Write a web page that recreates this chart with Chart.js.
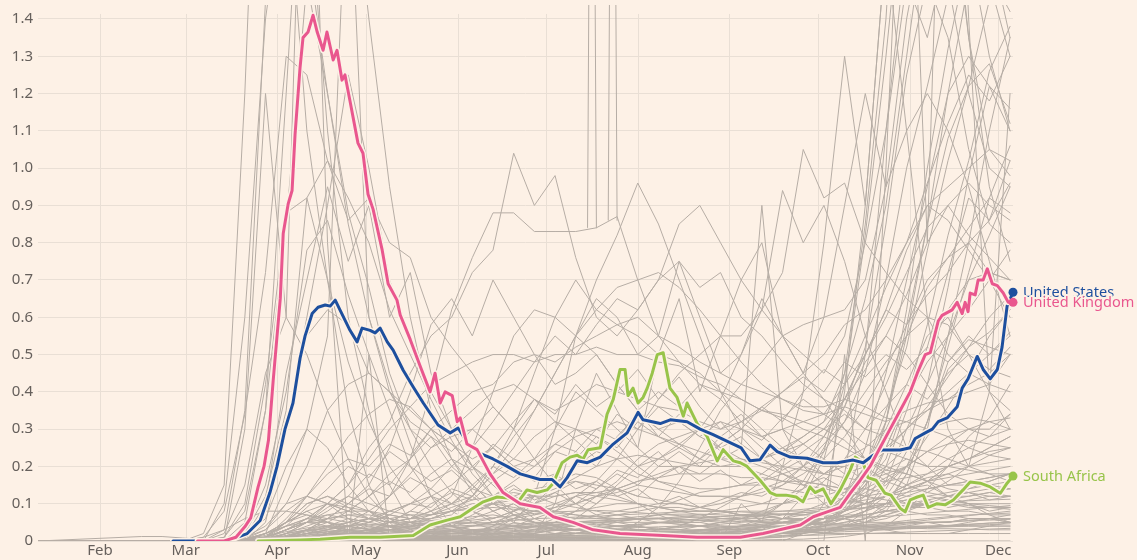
<!DOCTYPE html>
<html>
<head>
<meta charset="utf-8">
<script src="https://cdn.jsdelivr.net/npm/chart.js@4.4.0/dist/chart.umd.min.js"></script>
<style>
  html, body { margin: 0; padding: 0; background: #fdf1e6; }
  canvas { display: block; }
</style>
</head>
<body>
<canvas id="myChart" width="1137" height="560"></canvas>
<script>
// x values are day numbers of 2020 (0 = 1 Jan)
const monthDays = [31, 60, 91, 121, 152, 182, 213, 244, 274, 305, 335];
const monthNames = ['Feb', 'Mar', 'Apr', 'May', 'Jun', 'Jul', 'Aug', 'Sep', 'Oct', 'Nov', 'Dec'];
const yTicks = [0, 0.1, 0.2, 0.3, 0.4, 0.5, 0.6, 0.7, 0.8, 0.9, 1.0, 1.1, 1.2, 1.3, 1.4];

const ukDays = [64, 73, 77, 80, 82, 84.5, 86.5, 88, 89.6, 92,
  93, 94.7, 96, 97, 98.7, 99.7, 101.4, 103.1, 104.5, 106.5,
  107.8, 109.9, 111.2, 112.9, 113.9, 115.6, 118.3, 120, 121.7, 123.4,
  126.5, 128.5, 131.5, 132.6, 136, 139.3, 142.7, 144.4, 146.1, 147.8,
  150.2, 151.9, 152.9, 155.2, 158.6, 163, 167.4, 173.2, 179.9, 184.4,
  191.1, 197.9, 207, 221.6, 233.1, 247.7, 255.4, 261, 268, 272.4,
  277.1, 281.5, 284.9, 288.3, 291.6, 295, 298.4, 301.8, 305.2, 307.6,
  310.3, 312, 314.7, 316, 319.4, 321.1, 322.8, 323.8, 324.8, 325.5,
  327.2, 328.2, 329.9, 331.3, 333, 334.7, 336.7, 338.4, 340];
const ukValues = [0, 0, 0.01, 0.038, 0.062, 0.145, 0.2, 0.27, 0.43, 0.65,
  0.825, 0.905, 0.94, 1.09, 1.27, 1.35, 1.365, 1.41, 1.365, 1.316,
  1.365, 1.29, 1.316, 1.236, 1.25, 1.18, 1.067, 1.04, 0.93, 0.89,
  0.78, 0.69, 0.646, 0.606, 0.54, 0.47, 0.40, 0.45, 0.37, 0.40,
  0.39, 0.32, 0.33, 0.26, 0.245, 0.18, 0.13, 0.10, 0.09, 0.065,
  0.05, 0.03, 0.02, 0.015, 0.01, 0.01, 0.02, 0.03, 0.043, 0.065,
  0.078, 0.09, 0.128, 0.163, 0.2, 0.25, 0.30, 0.35, 0.40, 0.45,
  0.50, 0.505, 0.59, 0.605, 0.62, 0.64, 0.61, 0.64, 0.615, 0.665,
  0.66, 0.70, 0.70, 0.73, 0.69, 0.685, 0.665, 0.64, 0.64];

const usDays = [55.7, 64, 74, 80.8, 85.2, 88.5, 90.9, 93.6, 96.3, 98.7,
  100.4, 102.8, 104.8, 107.2, 108.9, 110.6, 112.2, 115.6, 118, 119.7,
  122.4, 124.1, 125.8, 128.2, 130.2, 133.6, 137, 140.4, 145.4, 149.5,
  152.2, 155.6, 159.6, 164, 168.8, 173.2, 179.9, 184, 186.7, 189.1,
  192.5, 195.9, 200.3, 204.7, 209.4, 213.1, 214.8, 220.6, 224, 229.7,
  234.1, 238.5, 245.3, 248, 251, 254.4, 257.8, 260.2, 264.6, 270.3,
  275.7, 280.5, 285.9, 289.3, 292.7, 295.7, 301.8, 305.2, 306.9, 310.3,
  312.7, 314.7, 317.7, 321.1, 322.8, 324.8, 327.9, 329.9, 332.3, 334.7,
  336.3, 338, 340];
const usValues = [0, 0, 0, 0.02, 0.055, 0.13, 0.2, 0.30, 0.37, 0.49,
  0.55, 0.61, 0.627, 0.633, 0.63, 0.646, 0.62, 0.565, 0.534, 0.571,
  0.565, 0.558, 0.571, 0.534, 0.512, 0.458, 0.413, 0.37, 0.311, 0.29,
  0.303, 0.26, 0.235, 0.22, 0.20, 0.18, 0.165, 0.165, 0.145, 0.17,
  0.215, 0.21, 0.225, 0.26, 0.29, 0.345, 0.325, 0.315, 0.325, 0.32,
  0.30, 0.285, 0.26, 0.25, 0.215, 0.218, 0.257, 0.24, 0.225, 0.222,
  0.21, 0.21, 0.217, 0.21, 0.23, 0.244, 0.244, 0.25, 0.275, 0.29,
  0.30, 0.32, 0.33, 0.36, 0.41, 0.435, 0.495, 0.46, 0.435, 0.46,
  0.52, 0.63, 0.667];

const saDays = [84.5, 98.7, 105.5, 115.6, 125.8, 137, 142.7, 148.5, 152.9, 156.3,
  160.7, 165.4, 169.1, 172.5, 175.5, 178.9, 182.3, 184.4, 187.4, 190.1,
  192.5, 194.5, 196.2, 200.3, 202.6, 204.7, 207, 208.7, 209.7, 211.4,
  213.1, 214.8, 216.2, 217.9, 219.6, 221.6, 223.9, 226.3, 228.4, 229.7,
  233.1, 236.5, 239.9, 241.9, 245.3, 247.7, 250, 254.4, 257.8, 259.8,
  263.2, 266.6, 268.9, 271.3, 273, 275.7, 278.4, 281.5, 284.9, 286.6,
  289.3, 290.9, 293.6, 296.7, 298.7, 301.8, 303.5, 305.2, 307.6, 309.6,
  311.3, 314.3, 317, 319.8, 323.1, 325.5, 328.9, 332.3, 335.7, 338,
  340];
const saValues = [0, 0.003, 0.005, 0.01, 0.01, 0.015, 0.043, 0.056, 0.065, 0.083,
  0.105, 0.118, 0.115, 0.105, 0.137, 0.13, 0.137, 0.155, 0.21, 0.225,
  0.23, 0.22, 0.245, 0.25, 0.34, 0.38, 0.46, 0.46, 0.39, 0.41,
  0.37, 0.385, 0.41, 0.45, 0.50, 0.505, 0.41, 0.385, 0.335, 0.37,
  0.315, 0.28, 0.215, 0.245, 0.215, 0.21, 0.2, 0.163, 0.13, 0.123,
  0.123, 0.118, 0.105, 0.145, 0.13, 0.14, 0.10, 0.137, 0.19, 0.225,
  0.21, 0.17, 0.163, 0.128, 0.123, 0.088, 0.078, 0.11, 0.118, 0.123,
  0.09, 0.10, 0.097, 0.11, 0.137, 0.158, 0.155, 0.145, 0.128, 0.155,
  0.174];

// all the other countries, one value per week
const greyDays = [10, 45, 52, 59, 66, 73, 80, 87, 94, 101, 108,
  115, 122, 129, 136, 143, 150, 157, 164, 171, 178, 185,
  192, 199, 206, 213, 220, 227, 234, 241, 248, 255, 262,
  269, 276, 283, 290, 297, 304, 311, 318, 325, 332, 339];

const greySpring = [
  [0,0,0,0,0.01,0.08,0.34,0.72,1.3,1.25,1.02, 0.92,0.8,0.62,0.5,0.38,0.27,0.18,0.12,0.07,0.05,0.04, 0.03,0.03,0.02,0.02,0.02,0.02,0.02,0.03,0.03,0.04,0.04, 0.05,0.05,0.09,0.16,0.32,0.58,0.85,1.08,1.22,1.28,1.12],
  [0,0,0,0,0,0.03,0.35,1.45,1.9,1.6,1.2, 0.85,0.6,0.42,0.26,0.12,0.04,0.02,0.01,0.01,0.01,0.01, 0.01,0.01,0.02,0.05,0.09,0.16,0.25,0.35,0.42,0.48,0.55, 0.58,0.6,0.62,0.7,0.95,1.1,1.2,1.1,0.95,0.75,0.55],
  [0,0,0,0,0,0,0.05,0.35,1.2,2.1,2.3, 1.9,1.4,0.95,0.6,0.35,0.22,0.13,0.08,0.05,0.04,0.03, 0.03,0.03,0.03,0.04,0.05,0.05,0.05,0.06,0.06,0.07,0.1, 0.14,0.24,0.45,0.85,1.4,2.3,2.6,1.9,1.35,0.95,0.75],
  [0,0,0,0,0,0.01,0.08,0.35,0.85,1.5,1.2, 0.88,0.68,0.45,0.3,0.2,0.13,0.08,0.05,0.04,0.03,0.02, 0.02,0.02,0.02,0.02,0.03,0.04,0.06,0.09,0.12,0.16,0.2, 0.24,0.28,0.36,0.52,0.85,1.25,1.5,1.35,1.05,0.85,0.8],
  [0,0,0,0,0,0,0.02,0.12,0.35,0.92,1.02, 0.86,0.92,0.8,0.76,0.6,0.52,0.45,0.36,0.3,0.22,0.15, 0.1,0.07,0.05,0.04,0.03,0.03,0.02,0.02,0.02,0.02,0.02, 0.02,0.03,0.04,0.06,0.09,0.18,0.32,0.46,0.52,0.56,0.62],
  [0,0,0,0,0,0.01,0.1,0.42,0.88,0.92,0.7, 0.48,0.32,0.2,0.12,0.08,0.04,0.02,0.01,0.01,0.01,0.01, 0.01,0.01,0.01,0.01,0.01,0.02,0.02,0.03,0.04,0.06,0.1, 0.16,0.25,0.36,0.48,0.55,0.5,0.42,0.34,0.3,0.3,0.34],
  [0,0,0,0,0,0,0.02,0.15,0.4,0.78,0.86, 0.66,0.5,0.35,0.2,0.12,0.08,0.05,0.03,0.02,0.01,0.01, 0.01,0.01,0.01,0.01,0.01,0.01,0.01,0.01,0.02,0.02,0.03, 0.05,0.08,0.11,0.14,0.17,0.2,0.16,0.12,0.1,0.07,0.05],
  [0,0,0,0,0.02,0.15,1.2,2.6,3.0,1.8,1.1, 0.6,0.35,0.15,0.05,0.02,0,0,0,0,0,0, 0,0,0,0,0,0,0,0,0,0,0, 0.02,0.1,0.4,0.9,1.6,2.4,2.8,2.2,1.6,1.3,1.1],
  [0,0,0,0,0,0,0,0.05,0.3,0.6,0.9, 1.25,1.0,0.7,0.55,0.4,0.3,0.2,0.15,0.1,0.06,0.04, 0.03,0.02,0.02,0.02,0.02,0.02,0.03,0.03,0.04,0.05,0.05, 0.06,0.08,0.12,0.2,0.3,0.42,0.55,0.6,0.5,0.4,0.35],
  [0,0,0,0,0,0,0.01,0.08,0.3,0.55,0.62, 0.58,0.45,0.4,0.35,0.3,0.22,0.15,0.1,0.07,0.05,0.04, 0.03,0.03,0.03,0.03,0.03,0.04,0.04,0.05,0.06,0.08,0.1, 0.12,0.16,0.22,0.3,0.42,0.55,0.68,0.76,0.8,0.72,0.7],
  [0,0,0,0,0,0.02,0.15,0.45,0.6,0.5,0.35, 0.22,0.12,0.06,0.03,0.01,0.01,0.01,0.01,0.01,0.01,0.01, 0.01,0.01,0.01,0.01,0.01,0.01,0.01,0.01,0.02,0.02,0.03, 0.04,0.06,0.18,0.5,1.1,1.6,1.7,1.5,1.2,1.0,0.95],
  [0,0,0,0,0,0,0.01,0.03,0.1,0.2,0.35, 0.42,0.45,0.4,0.32,0.28,0.2,0.15,0.1,0.07,0.05,0.04, 0.03,0.02,0.02,0.02,0.01,0.01,0.01,0.01,0.02,0.02,0.03, 0.04,0.05,0.07,0.09,0.1,0.11,0.13,0.16,0.2,0.23,0.25],
  [0,0,0,0,0,0,0,0.01,0.05,0.12,0.2, 0.28,0.34,0.38,0.36,0.3,0.26,0.2,0.16,0.12,0.1,0.08, 0.07,0.06,0.06,0.06,0.07,0.08,0.09,0.1,0.12,0.14,0.16, 0.2,0.26,0.32,0.4,0.48,0.55,0.6,0.58,0.5,0.46,0.44],
  [0,0,0,0,0,0,0.01,0.1,0.45,0.7,0.95, 0.75,0.9,0.6,0.72,0.45,0.3,0.2,0.12,0.08,0.05,0.03, 0.02,0.02,0.02,0.02,0.02,0.02,0.02,0.02,0.02,0.03,0.03, 0.04,0.05,0.06,0.08,0.1,0.13,0.16,0.2,0.22,0.25,0.28]
];

const greySummer = [
  [0,0,0,0,0,0,0,0.01,0.03,0.06,0.1, 0.15,0.22,0.3,0.36,0.42,0.45,0.48,0.5,0.5,0.48,0.5, 0.5,0.52,0.5,0.5,0.48,0.47,0.44,0.42,0.38,0.35,0.34, 0.32,0.3,0.27,0.22,0.19,0.18,0.16,0.2,0.22,0.25,0.28],
  [0,0,0,0,0,0,0,0,0.01,0.03,0.05, 0.08,0.12,0.18,0.22,0.3,0.35,0.4,0.42,0.48,0.5,0.48, 0.52,0.55,0.58,0.6,0.55,0.52,0.48,0.45,0.42,0.4,0.38, 0.35,0.34,0.36,0.34,0.32,0.35,0.37,0.38,0.4,0.42,0.5],
  [0,0,0,0,0,0,0,0,0.02,0.05,0.1, 0.15,0.25,0.32,0.45,0.55,0.6,0.72,0.78,1.04,0.9,0.98, 0.76,0.6,0.55,0.62,0.7,0.85,0.9,0.8,0.7,0.62,0.55, 0.45,0.38,0.3,0.22,0.18,0.15,0.13,0.12,0.12,0.13,0.12],
  [0,0,0,0,0,0,0,0,0,0.01,0.02, 0.04,0.06,0.12,0.22,0.4,0.62,0.76,0.88,0.88,0.83,0.83, 0.83,0.84,0.87,0.7,0.55,0.48,0.42,0.4,0.38,0.35,0.33, 0.3,0.28,0.25,0.22,0.2,0.18,0.16,0.14,0.13,0.12,0.12],
  [0,0,0,0,0,0,0,0,0.01,0.01,0.02, 0.02,0.03,0.05,0.06,0.08,0.1,0.14,0.2,0.28,0.35,0.45, 0.55,0.62,0.68,0.7,0.72,0.68,0.62,0.55,0.48,0.42,0.38, 0.36,0.36,0.38,0.36,0.33,0.32,0.35,0.38,0.42,0.45,0.5],
  [0,0,0,0,0,0,0,0,0,0.01,0.01, 0.02,0.03,0.04,0.05,0.06,0.08,0.12,0.18,0.25,0.35,0.45, 0.55,0.7,0.82,0.96,0.85,0.7,0.55,0.4,0.3,0.25,0.2, 0.15,0.1,0.06,0.04,0.03,0.02,0.02,0.02,0.03,0.04,0.05],
  [0,0,0,0,0,0,0,0,0,0.01,0.01, 0.01,0.01,0.01,0.01,0.01,0.01,0.02,0.03,0.04,0.06,0.08, 0.12,0.16,0.22,0.3,0.38,0.45,0.5,0.55,0.55,0.62,0.72, 1.05,0.92,0.96,0.8,0.72,0.65,0.6,0.5,0.45,0.42,0.4],
  [0,0,0,0,0,0,0,0.01,0.03,0.05,0.07, 0.08,0.08,0.07,0.06,0.06,0.07,0.12,0.2,0.3,0.45,0.6, 0.7,0.62,0.58,0.55,0.5,0.48,0.45,0.4,0.35,0.3,0.25, 0.22,0.2,0.2,0.22,0.25,0.3,0.35,0.4,0.45,0.5,0.55],
  [0,0,0,0,0,0,0,0.02,0.15,0.3,0.55, 1.9,0.6,0.4,0.3,0.25,0.28,0.3,0.25,0.2,0.22,0.3, 0.4,0.35,0.3,0.25,0.2,0.2,0.18,0.22,0.25,0.9,0.3, 0.2,0.15,0.12,0.1,0.08,0.08,0.07,0.07,0.06,0.06,0.05],
  [0,0,0,0,0,0,0,0.01,0.03,0.05,0.05, 0.04,0.03,0.02,0.01,0.01,0.01,0.01,0.01,0.01,0.02,0.03, 0.06,0.1,0.15,0.2,0.22,0.25,0.3,0.38,0.5,0.62,0.94, 0.8,0.9,0.75,0.55,0.4,0.25,0.2,0.15,0.15,0.16,0.18],
  [0,0,0,0,0,0,0,0,0.01,0.02,0.03, 0.04,0.05,0.07,0.1,0.14,0.2,0.25,0.32,0.4,0.48,0.55, 0.5,0.58,0.65,0.62,0.7,0.75,0.68,0.72,0.6,0.55,0.48, 0.42,0.38,0.35,0.3,0.28,0.25,0.24,0.22,0.2,0.18,0.16],
  [0,0,0,0,0,0,0,0,0.01,0.02,0.03, 0.05,0.06,0.08,0.1,0.12,0.15,0.2,0.25,0.32,0.38,0.35, 0.38,0.42,0.4,0.38,0.36,0.35,0.32,0.3,0.32,0.35,0.4, 0.45,0.5,0.58,0.62,0.7,0.8,0.9,0.95,1.0,1.05,1.02],
  [0,0,0,0,0,0,0,0.01,0.05,0.1,0.12, 0.1,0.08,0.05,0.06,0.08,0.12,0.25,0.4,0.55,0.62,0.6, 0.55,0.5,0.42,0.35,0.28,0.25,0.22,0.2,0.2,0.22,0.25, 0.28,0.32,0.45,0.65,0.9,1.3,1.7,1.9,2.0,1.8,1.6],
  [0,0,0,0,0.01,0.03,0.06,0.08,0.08,0.07,0.05, 0.04,0.03,0.03,0.03,0.03,0.04,0.05,0.06,0.08,0.1,0.12, 0.13,0.13,0.12,0.1,0.09,0.08,0.08,0.08,0.09,0.1,0.12, 0.14,0.18,0.22,0.25,0.3,0.32,0.3,0.28,0.25,0.23,0.22],
  [0,0,0,0,0,0,0,0,0.02,0.03,0.02, 0.01,0.01,0,0,0,0,0,0.02,0.05,0.12,0.3, 0.55,0.65,0.6,0.5,0.55,0.75,0.6,0.45,0.5,0.65,0.55, 0.5,0.45,0.55,0.8,1.1,1.5,1.35,1.6,1.8,1.5,1.3],
  [0,0,0,0,0,0,0,0,0,0.002,0.004, 0.006,0.01,0.015,0.02,0.03,0.05,0.08,0.12,0.16,0.2,0.24, 0.28,0.3,0.32,0.3,0.28,0.26,0.24,0.22,0.2,0.18,0.16, 0.15,0.14,0.13,0.12,0.11,0.1,0.1,0.1,0.09,0.09,0.09],
  [0,0,0,0,0,0,0,0,0,0,0, 0,0,0,0,0,0,0.005,0.01,0.02,0.03,0.05, 0.08,0.12,0.16,0.22,0.26,0.28,0.3,0.32,0.3,0.28,0.3, 0.32,0.34,0.3,0.26,0.24,0.22,0.2,0.2,0.19,0.18,0.18],
  [0,0,0,0,0,0,0,0.001,0.002,0.003,0.003, 0.003,0.003,0.004,0.005,0.007,0.01,0.02,0.04,0.06,0.08,0.1, 0.12,0.13,0.14,0.16,0.17,0.18,0.18,0.18,0.17,0.17,0.16, 0.16,0.15,0.14,0.14,0.13,0.12,0.12,0.11,0.1,0.1,0.1],
  [0,0,0,0,0,0,0,0,0.01,0.03,0.06, 0.1,0.15,0.25,0.4,0.58,0.65,0.55,0.7,0.6,0.5,0.42, 0.45,0.5,0.42,0.35,0.3,0.32,0.28,0.25,0.22,0.2,0.18, 0.16,0.15,0.14,0.16,0.18,0.2,0.24,0.28,0.3,0.32,0.33]
];

const greyMid = [
  [0,0,0,0,0,0,0,0.005,0.02,0.05,0.08, 0.12,0.18,0.15,0.22,0.28,0.24,0.3,0.36,0.3,0.38,0.34, 0.42,0.36,0.4,0.46,0.38,0.44,0.36,0.3,0.34,0.28,0.3, 0.26,0.3,0.34,0.3,0.36,0.42,0.38,0.45,0.5,0.46,0.52],
  [0,0,0,0,0,0,0,0,0.01,0.02,0.04, 0.06,0.05,0.08,0.1,0.09,0.14,0.12,0.18,0.22,0.2,0.26, 0.3,0.26,0.34,0.3,0.36,0.32,0.28,0.32,0.26,0.22,0.25, 0.2,0.18,0.22,0.2,0.24,0.3,0.36,0.44,0.52,0.6,0.66],
  [0,0,0,0,0,0,0,0.01,0.04,0.09,0.14, 0.2,0.17,0.24,0.2,0.16,0.19,0.14,0.12,0.15,0.11,0.13, 0.1,0.14,0.18,0.15,0.2,0.24,0.2,0.26,0.3,0.27,0.33, 0.38,0.34,0.42,0.5,0.6,0.72,0.84,0.9,0.82,0.76,0.7],
  [0,0,0,0,0,0,0,0,0,0.01,0.02, 0.03,0.05,0.07,0.06,0.1,0.13,0.11,0.16,0.2,0.17,0.24, 0.22,0.28,0.25,0.32,0.28,0.34,0.3,0.25,0.28,0.22,0.19, 0.22,0.18,0.2,0.16,0.19,0.22,0.2,0.26,0.3,0.28,0.34],
  [0,0,0,0,0,0,0,0.005,0.03,0.06,0.1, 0.08,0.12,0.16,0.13,0.18,0.22,0.19,0.26,0.22,0.28,0.32, 0.27,0.22,0.26,0.2,0.24,0.18,0.22,0.26,0.3,0.36,0.32, 0.4,0.46,0.42,0.55,0.68,0.8,0.96,1.12,1.25,1.18,1.3],
  [0,0,0,0,0,0,0,0,0.005,0.01,0.015, 0.02,0.03,0.05,0.08,0.12,0.1,0.15,0.2,0.17,0.22,0.26, 0.24,0.3,0.27,0.35,0.4,0.36,0.42,0.38,0.32,0.28,0.24, 0.26,0.22,0.18,0.2,0.16,0.14,0.15,0.12,0.13,0.11,0.12],
  [0,0,0,0,0,0,0,0,0.01,0.03,0.06, 0.1,0.14,0.12,0.17,0.14,0.1,0.12,0.08,0.1,0.07,0.09, 0.12,0.1,0.14,0.12,0.17,0.2,0.16,0.19,0.15,0.18,0.22, 0.26,0.3,0.38,0.5,0.62,0.58,0.7,0.76,0.84,0.92,0.88],
  [0,0,0,0,0,0,0,0,0,0,0.005, 0.01,0.02,0.015,0.03,0.05,0.04,0.07,0.1,0.14,0.12,0.18, 0.24,0.2,0.28,0.34,0.3,0.26,0.3,0.24,0.2,0.22,0.18, 0.15,0.17,0.14,0.12,0.13,0.1,0.11,0.09,0.1,0.08,0.09],
  [0,0,0,0,0,0,0,0.01,0.06,0.12,0.18, 0.22,0.2,0.26,0.23,0.3,0.26,0.22,0.25,0.2,0.16,0.18, 0.14,0.16,0.12,0.14,0.1,0.12,0.09,0.11,0.13,0.12,0.15, 0.18,0.22,0.28,0.36,0.46,0.58,0.66,0.72,0.8,0.86,0.96],
  [0,0,0,0,0,0,0,0,0.005,0.01,0.02, 0.04,0.06,0.05,0.08,0.07,0.1,0.08,0.06,0.08,0.1,0.13, 0.16,0.14,0.19,0.17,0.22,0.26,0.22,0.28,0.32,0.36,0.4, 0.44,0.4,0.48,0.44,0.5,0.46,0.52,0.48,0.55,0.5,0.56]
];

const greyAutumn = [
  [0,0,0,0,0,0,0,0.001,0.003,0.005,0.006, 0.005,0.004,0.003,0.002,0.001,0.001,0.001,0.001,0.002,0.002,0.003, 0.003,0.004,0.005,0.005,0.006,0.008,0.01,0.012,0.015,0.03,0.06, 0.12,0.22,0.42,0.82,1.3,1.85,2.1,1.8,1.35,1.05,0.98],
  [0,0,0,0,0,0,0,0.001,0.002,0.004,0.006, 0.007,0.008,0.008,0.008,0.008,0.008,0.008,0.008,0.008,0.008,0.008, 0.008,0.008,0.009,0.01,0.012,0.013,0.014,0.015,0.016,0.02,0.025, 0.035,0.06,0.12,0.25,0.45,0.7,0.95,1.2,1.3,1.22,1.1],
  [0,0,0,0,0,0,0,0.002,0.005,0.01,0.015, 0.014,0.012,0.01,0.008,0.006,0.005,0.004,0.003,0.002,0.002,0.002, 0.002,0.002,0.002,0.003,0.004,0.005,0.008,0.012,0.02,0.04,0.06, 0.08,0.1,0.13,0.2,0.35,0.52,0.78,1.02,1.22,1.45,1.56],
  [0,0,0,0,0,0,0,0.001,0.003,0.005,0.006, 0.006,0.005,0.004,0.004,0.005,0.006,0.01,0.015,0.025,0.04,0.06, 0.08,0.09,0.1,0.1,0.09,0.08,0.07,0.06,0.06,0.05,0.05, 0.06,0.08,0.12,0.2,0.32,0.55,0.85,1.2,1.5,1.75,1.95],
  [0,0,0,0,0,0,0.005,0.02,0.04,0.06,0.05, 0.03,0.02,0.01,0.005,0.003,0.002,0.002,0.002,0.003,0.004,0.005, 0.006,0.007,0.008,0.008,0.008,0.008,0.008,0.01,0.012,0.015,0.02, 0.03,0.05,0.08,0.14,0.32,0.62,1.0,1.32,1.58,1.8,1.72],
  [0,0,0,0,0,0,0,0.005,0.01,0.02,0.025, 0.02,0.015,0.01,0.005,0.003,0.002,0.002,0.003,0.01,0.02,0.04, 0.05,0.05,0.04,0.03,0.03,0.03,0.04,0.05,0.06,0.06,0.07, 0.07,0.08,0.1,0.15,0.22,0.38,0.58,0.82,1.02,1.26,1.38],
  [0,0,0,0,0,0,0.002,0.008,0.02,0.04,0.06, 0.07,0.07,0.06,0.05,0.045,0.05,0.06,0.08,0.1,0.12,0.14, 0.17,0.2,0.22,0.23,0.22,0.21,0.2,0.2,0.21,0.22,0.24, 0.28,0.32,0.38,0.46,0.55,0.66,0.8,0.9,0.96,0.9,0.86],
  [0,0,0,0,0,0,0.01,0.04,0.1,0.12,0.1, 0.06,0.03,0.02,0.01,0.005,0.003,0.002,0.002,0.002,0.002,0.003, 0.003,0.004,0.004,0.004,0.004,0.004,0.004,0.005,0.008,0.012,0.02, 0.03,0.04,0.06,0.08,0.14,0.24,0.42,0.68,0.98,1.22,1.16],
  [0,0,0,0,0,0,0.005,0.02,0.04,0.05,0.04, 0.03,0.02,0.01,0.008,0.006,0.006,0.01,0.03,0.06,0.1,0.15, 0.2,0.24,0.22,0.18,0.16,0.15,0.14,0.14,0.15,0.16,0.18, 0.2,0.24,0.32,0.45,0.7,1.0,1.22,1.46,1.62,1.52,1.42],
  [0,0,0,0,0,0,0,0,0.001,0.002,0.003, 0.003,0.003,0.002,0.002,0.001,0.001,0.001,0.001,0.001,0.001,0.001, 0.001,0.001,0.001,0.001,0.002,0.002,0.003,0.005,0.01,0.02,0.03, 0.04,0.05,0.06,0.08,0.12,0.2,0.32,0.52,0.72,0.92,1.06],
  [0,0,0,0,0,0,0.01,0.06,0.2,0.3,0.25, 0.15,0.08,0.04,0.02,0.01,0.005,0.003,0.003,0.003,0.005,0.01, 0.02,0.03,0.04,0.04,0.03,0.03,0.03,0.03,0.03,0.04,0.04, 0.05,0.06,0.08,0.1,0.2,0.35,0.52,0.72,0.92,0.86,1.02],
  [0,0,0,0,0,0,0.005,0.03,0.08,0.12,0.1, 0.08,0.06,0.05,0.05,0.04,0.04,0.03,0.03,0.03,0.04,0.04, 0.04,0.04,0.03,0.03,0.02,0.02,0.02,0.02,0.03,0.03,0.04, 0.05,0.06,0.08,0.12,0.25,0.38,0.5,0.62,0.7,0.72,0.7],
  [0,0,0,0,0,0,0,0.001,0.003,0.005,0.008, 0.01,0.012,0.012,0.012,0.012,0.012,0.012,0.013,0.015,0.017,0.02, 0.022,0.025,0.028,0.03,0.033,0.036,0.04,0.045,0.05,0.055,0.06, 0.07,0.08,0.1,0.12,0.15,0.2,0.28,0.36,0.45,0.55,0.62],
  [0,0,0,0,0,0,0.001,0.004,0.008,0.01,0.008, 0.006,0.004,0.003,0.002,0.002,0.001,0.001,0.001,0.001,0.001,0.001, 0.001,0.002,0.003,0.005,0.008,0.012,0.015,0.02,0.025,0.03,0.03, 0.035,0.04,0.05,0.06,0.1,0.18,0.32,0.48,0.54,0.52,0.5],
  [0,0,0,0,0,0,0,0.002,0.01,0.02,0.03, 0.05,0.08,0.12,0.18,0.25,0.3,0.35,0.4,0.42,0.38,0.32, 0.3,0.28,0.24,0.2,0.16,0.14,0.12,0.12,0.12,0.13,0.15, 0.2,0.28,0.38,0.5,0.62,0.78,0.9,0.86,0.78,0.7,0.6],
  [0,0,0,0,0,0,0.3,1.2,0.6,2.4,0.8, 0,0.5,0,0,0,0,0,0,0,0,0, 0,0,0,0,0,0,0,0,0,0,0, 0,0,0.5,0,1.0,2.2,0.8,2.6,1.4,0.4,1.2],
  [0,0,0,0,0,0,0.002,0.01,0.05,0.1,0.12, 0.09,0.06,0.04,0.025,0.015,0.01,0.008,0.006,0.005,0.004,0.003, 0.003,0.002,0.002,0.002,0.002,0.002,0.002,0.002,0.002,0.003,0.004, 0.005,0.008,0.012,0.02,0.04,0.08,0.14,0.2,0.28,0.33,0.42],
  [0,0,0,0,0,0,0,0,0.001,0.003,0.006, 0.01,0.015,0.02,0.025,0.03,0.035,0.04,0.04,0.04,0.038,0.035, 0.03,0.028,0.025,0.024,0.023,0.022,0.021,0.02,0.02,0.021,0.022, 0.025,0.03,0.04,0.05,0.06,0.08,0.1,0.12,0.14,0.16,0.18],
  [0,0,0,0,0,0,0,0.02,0.05,0.08,0.05, 0.02,0.01,0,0,0,0,0,0,0,0.02,0.1, 0.3,0.45,0.35,0.25,0.5,0.65,0.4,0.55,0.7,0.8,0.55, 0.45,0.6,0.9,1.2,0.95,1.4,1.7,1.5,1.9,1.6,1.35],
  [0,0,0,0,0,0,0,0.005,0.01,0.015,0.02, 0.018,0.015,0.01,0.008,0.005,0.004,0.003,0.002,0.002,0.002,0.002, 0.002,0.002,0.002,0.002,0.002,0.003,0.004,0.005,0.006,0.008,0.01, 0.015,0.02,0.04,0.08,0.16,0.3,0.42,0.55,0.7,0.82,0.95],
  [0,0,0,0,0,0.1,0.6,1.4,1.8,1.1,0.7, 0.35,0.15,0.05,0,0,0,0,0,0,0,0, 0,0,0,0,0,0,0,0,0.1,0.05,0.2, 0.4,0.8,1.3,0.9,1.6,1.1,0.6,0.3,0.2,0.4,0.3],
  [0,0,0,0,0,0,0,0.001,0.002,0.003,0.003, 0.002,0.002,0.001,0.001,0.001,0.001,0.001,0.001,0.001,0.001,0.001, 0.001,0.001,0.002,0.002,0.003,0.003,0.004,0.005,0.006,0.008,0.012, 0.02,0.04,0.08,0.15,0.25,0.38,0.48,0.55,0.62,0.7,0.78],
  [0,0,0,0,0,0,0.005,0.02,0.05,0.07,0.06, 0.05,0.04,0.03,0.02,0.01,0.01,0.02,0.04,0.08,0.12,0.16, 0.18,0.17,0.14,0.1,0.07,0.05,0.04,0.03,0.03,0.03,0.03, 0.03,0.03,0.04,0.05,0.08,0.15,0.3,0.55,0.8,1.1,1.35]
];

const greyLow = [
  [0,0.012,0.012,0.008,0.004,0.002,0.001,0.001,0.001,0.001,0.001, 0,0,0,0,0,0,0,0,0,0,0, 0,0,0,0,0,0,0,0,0,0,0, 0,0,0,0,0,0,0,0,0,0,0],
  [0,0,0,0,0,0,0.005,0.02,0.05,0.08,0.1, 0.09,0.08,0.06,0.05,0.04,0.03,0.03,0.02,0.02,0.02,0.03, 0.03,0.04,0.05,0.06,0.06,0.05,0.05,0.04,0.04,0.04,0.05, 0.06,0.07,0.08,0.1,0.12,0.15,0.17,0.18,0.16,0.15,0.14],
  [0,0,0,0,0,0,0.002,0.01,0.03,0.05,0.06, 0.07,0.06,0.05,0.04,0.03,0.02,0.02,0.01,0.01,0.01,0.01, 0.01,0.01,0.01,0.02,0.02,0.02,0.02,0.02,0.02,0.03,0.03, 0.04,0.05,0.06,0.08,0.1,0.12,0.14,0.15,0.16,0.17,0.18],
  [0,0,0,0,0,0,0,0.005,0.015,0.03,0.04, 0.05,0.06,0.06,0.07,0.07,0.08,0.09,0.1,0.11,0.12,0.12, 0.13,0.12,0.11,0.1,0.09,0.09,0.08,0.08,0.07,0.07,0.06, 0.06,0.06,0.06,0.05,0.05,0.05,0.05,0.05,0.06,0.06,0.06],
  [0,0,0,0,0,0,0,0,0.005,0.01,0.015, 0.02,0.025,0.03,0.04,0.05,0.06,0.08,0.1,0.12,0.14,0.15, 0.16,0.15,0.14,0.12,0.11,0.1,0.09,0.08,0.07,0.07,0.06, 0.06,0.06,0.07,0.07,0.08,0.09,0.1,0.1,0.11,0.12,0.12],
  [0,0,0,0,0,0,0,0.002,0.005,0.01,0.015, 0.02,0.02,0.02,0.02,0.02,0.02,0.03,0.03,0.04,0.05,0.05, 0.06,0.07,0.08,0.09,0.1,0.1,0.09,0.08,0.07,0.06,0.05, 0.05,0.04,0.04,0.04,0.04,0.05,0.05,0.05,0.06,0.06,0.07],
  [0,0,0,0,0,0,0,0,0.002,0.004,0.006, 0.008,0.01,0.012,0.015,0.02,0.025,0.03,0.035,0.04,0.045,0.05, 0.05,0.05,0.05,0.05,0.05,0.045,0.04,0.04,0.035,0.03,0.03, 0.03,0.03,0.03,0.035,0.04,0.045,0.05,0.05,0.055,0.06,0.06],
  [0,0,0,0,0,0,0.005,0.015,0.04,0.06,0.07, 0.06,0.05,0.04,0.035,0.03,0.03,0.04,0.05,0.07,0.08,0.09, 0.1,0.12,0.13,0.15,0.14,0.13,0.12,0.12,0.11,0.1,0.1, 0.11,0.12,0.14,0.16,0.2,0.25,0.3,0.32,0.33,0.32,0.3],
  [0,0,0,0,0,0,0,0,0.01,0.02,0.01, 0.02,0.01,0.01,0,0.01,0,0.01,0.01,0.02,0.01,0.02, 0.03,0.02,0.02,0.03,0.02,0.02,0.01,0.02,0.01,0.02,0.02, 0.03,0.02,0.03,0.04,0.03,0.04,0.05,0.04,0.05,0.06,0.05],
  [0,0,0,0,0,0,0,0,0,0.005,0.01, 0.015,0.02,0.03,0.04,0.06,0.08,0.1,0.1,0.09,0.08,0.07, 0.06,0.06,0.07,0.08,0.09,0.11,0.13,0.14,0.15,0.15,0.14, 0.13,0.12,0.11,0.1,0.1,0.09,0.09,0.08,0.08,0.07,0.07],
  [0,0,0,0,0,0,0,0.002,0.004,0.006,0.008, 0.01,0.01,0.01,0.01,0.01,0.01,0.01,0.01,0.01,0.01,0.01, 0.01,0.012,0.015,0.02,0.02,0.025,0.03,0.03,0.03,0.035,0.04, 0.045,0.05,0.06,0.07,0.08,0.09,0.1,0.11,0.12,0.13,0.14],
  [0,0,0,0,0,0,0,0.001,0.003,0.005,0.007, 0.008,0.01,0.012,0.014,0.016,0.02,0.025,0.03,0.035,0.04,0.045, 0.05,0.055,0.06,0.065,0.07,0.072,0.072,0.07,0.068,0.065,0.06, 0.055,0.05,0.045,0.04,0.037,0.035,0.033,0.033,0.032,0.03,0.03],
  [0,0,0,0,0,0,0,0.01,0.03,0.05,0.09, 0.12,0.1,0.08,0.07,0.05,0.04,0.03,0.02,0.02,0.015,0.01, 0.01,0.01,0.01,0.01,0.01,0.01,0.01,0.01,0.01,0.01,0.015, 0.02,0.03,0.04,0.05,0.07,0.09,0.11,0.12,0.13,0.14,0.14],
  [0,0,0,0,0,0,0,0,0,0,0.005, 0.01,0.02,0.03,0.05,0.07,0.09,0.11,0.12,0.13,0.12,0.1, 0.09,0.08,0.07,0.06,0.05,0.045,0.04,0.035,0.03,0.03,0.025, 0.025,0.02,0.02,0.02,0.02,0.02,0.02,0.02,0.02,0.02,0.02],
  [0,0,0,0,0,0,0,0.005,0.02,0.03,0.03, 0.025,0.02,0.015,0.01,0.008,0.006,0.005,0.004,0.004,0.004,0.005, 0.006,0.008,0.01,0.015,0.02,0.025,0.03,0.035,0.04,0.045,0.05, 0.06,0.08,0.1,0.13,0.16,0.2,0.24,0.26,0.27,0.26,0.25],
  [0,0,0,0,0,0,0,0,0.002,0.003,0.004, 0.005,0.005,0.005,0.005,0.006,0.007,0.008,0.01,0.012,0.015,0.018, 0.02,0.02,0.022,0.025,0.025,0.025,0.024,0.023,0.022,0.022,0.023, 0.025,0.027,0.03,0.032,0.034,0.036,0.038,0.04,0.042,0.044,0.046],
  [0,0,0,0,0,0,0,0.003,0.01,0.02,0.025, 0.03,0.035,0.04,0.045,0.05,0.05,0.05,0.045,0.04,0.035,0.03, 0.03,0.035,0.04,0.045,0.05,0.055,0.06,0.065,0.07,0.075,0.08, 0.085,0.09,0.1,0.11,0.12,0.13,0.14,0.15,0.16,0.17,0.18],
  [0,0,0,0,0,0,0,0,0,0.002,0.004, 0.006,0.01,0.015,0.02,0.025,0.03,0.04,0.05,0.06,0.07,0.08, 0.1,0.12,0.14,0.16,0.18,0.2,0.21,0.22,0.22,0.21,0.2, 0.19,0.18,0.17,0.16,0.16,0.17,0.18,0.2,0.22,0.24,0.25],
  [0,0,0,0,0,0,0,0.002,0.005,0.01,0.02, 0.03,0.04,0.05,0.06,0.07,0.08,0.085,0.09,0.085,0.08,0.075, 0.07,0.065,0.06,0.06,0.06,0.065,0.07,0.075,0.08,0.08,0.08, 0.08,0.085,0.09,0.1,0.12,0.14,0.16,0.18,0.2,0.21,0.22],
  [0,0,0,0,0,0,0,0,0.001,0.002,0.003, 0.004,0.005,0.006,0.007,0.008,0.009,0.01,0.011,0.012,0.013,0.014, 0.015,0.016,0.017,0.018,0.019,0.02,0.02,0.02,0.02,0.02,0.021, 0.022,0.023,0.025,0.027,0.03,0.033,0.036,0.04,0.044,0.048,0.05],
  [0,0,0,0,0,0,0,0.004,0.012,0.025,0.035, 0.04,0.045,0.04,0.035,0.03,0.028,0.025,0.025,0.028,0.03,0.035, 0.04,0.045,0.04,0.038,0.035,0.03,0.028,0.025,0.025,0.028,0.03, 0.035,0.04,0.05,0.06,0.07,0.085,0.1,0.11,0.1,0.095,0.09],
  [0,0,0,0,0,0,0,0,0.003,0.008,0.015, 0.02,0.03,0.04,0.05,0.055,0.06,0.065,0.07,0.06,0.05,0.045, 0.04,0.035,0.03,0.028,0.025,0.025,0.03,0.035,0.04,0.045,0.05, 0.055,0.06,0.065,0.07,0.08,0.09,0.1,0.1,0.095,0.09,0.085],
  [0,0,0,0,0,0,0,0,0,0.001,0.002, 0.003,0.004,0.006,0.008,0.01,0.013,0.016,0.02,0.025,0.03,0.035, 0.04,0.048,0.055,0.06,0.062,0.06,0.055,0.05,0.045,0.04,0.038, 0.036,0.035,0.034,0.035,0.036,0.038,0.04,0.042,0.045,0.048,0.05],
  [0,0,0,0,0,0,0,0.001,0.004,0.008,0.012, 0.016,0.02,0.022,0.024,0.025,0.024,0.022,0.02,0.018,0.016,0.015, 0.015,0.016,0.018,0.02,0.022,0.024,0.026,0.03,0.034,0.04,0.048, 0.058,0.07,0.085,0.1,0.12,0.15,0.18,0.22,0.25,0.28,0.3],
  [0,0,0,0,0,0,0.003,0.012,0.025,0.035,0.04, 0.038,0.032,0.03,0.026,0.024,0.02,0.022,0.018,0.02,0.016,0.018, 0.015,0.017,0.02,0.018,0.022,0.02,0.024,0.022,0.026,0.024,0.028, 0.03,0.034,0.038,0.042,0.048,0.055,0.06,0.065,0.07,0.072,0.075],
  [0,0,0,0,0,0,0,0.002,0.006,0.012,0.018, 0.024,0.03,0.036,0.04,0.044,0.046,0.048,0.05,0.055,0.06,0.062, 0.064,0.066,0.07,0.072,0.075,0.078,0.08,0.08,0.078,0.075,0.072, 0.07,0.068,0.066,0.064,0.066,0.07,0.075,0.08,0.085,0.09,0.095],
  [0,0,0,0,0,0,0,0,0.001,0.003,0.005, 0.008,0.01,0.012,0.014,0.016,0.018,0.02,0.022,0.024,0.026,0.028, 0.03,0.032,0.034,0.036,0.038,0.04,0.04,0.04,0.038,0.036,0.034, 0.032,0.03,0.03,0.03,0.032,0.034,0.036,0.038,0.04,0.04,0.04],
  [0,0,0,0,0,0,0,0.004,0.014,0.028,0.036, 0.03,0.022,0.016,0.012,0.01,0.008,0.007,0.006,0.006,0.006,0.007, 0.008,0.009,0.01,0.011,0.012,0.013,0.014,0.016,0.02,0.026,0.034, 0.045,0.06,0.08,0.1,0.12,0.14,0.16,0.17,0.18,0.19,0.2],
  [0,0,0,0,0,0,0,0,0.002,0.005,0.01, 0.015,0.022,0.03,0.038,0.045,0.05,0.056,0.062,0.068,0.074,0.078, 0.08,0.082,0.08,0.076,0.072,0.068,0.064,0.06,0.056,0.052,0.05, 0.048,0.046,0.045,0.045,0.046,0.048,0.05,0.052,0.054,0.056,0.058],
  [0,0,0,0,0,0,0,0.001,0.003,0.006,0.01, 0.014,0.017,0.02,0.022,0.024,0.026,0.028,0.03,0.034,0.038,0.042, 0.046,0.05,0.054,0.058,0.06,0.062,0.064,0.066,0.068,0.07,0.072, 0.076,0.08,0.085,0.09,0.1,0.11,0.12,0.13,0.14,0.15,0.16],
  [0,0,0,0,0,0,0,0,0,0.001,0.002, 0.003,0.004,0.005,0.006,0.007,0.008,0.009,0.01,0.01,0.01,0.01, 0.01,0.01,0.01,0.01,0.01,0.01,0.01,0.011,0.012,0.013,0.014, 0.015,0.016,0.018,0.02,0.022,0.024,0.026,0.028,0.03,0.032,0.034],
  [0,0,0,0,0,0,0,0.002,0.008,0.016,0.024, 0.03,0.028,0.026,0.024,0.022,0.02,0.018,0.016,0.014,0.012,0.011, 0.01,0.01,0.01,0.011,0.012,0.014,0.016,0.018,0.02,0.022,0.024, 0.027,0.03,0.034,0.038,0.044,0.05,0.056,0.062,0.068,0.074,0.08],
  [0,0,0,0,0,0,0,0,0.003,0.007,0.012, 0.018,0.024,0.03,0.034,0.038,0.04,0.042,0.044,0.046,0.048,0.05, 0.052,0.054,0.056,0.058,0.06,0.058,0.056,0.054,0.052,0.05,0.048, 0.046,0.044,0.042,0.04,0.04,0.04,0.04,0.04,0.04,0.04,0.04],
  [0,0,0,0,0,0,0,0.001,0.002,0.004,0.006, 0.008,0.01,0.012,0.013,0.014,0.015,0.016,0.018,0.02,0.024,0.028, 0.032,0.036,0.04,0.044,0.048,0.052,0.056,0.06,0.064,0.068,0.072, 0.076,0.08,0.084,0.088,0.092,0.096,0.1,0.104,0.108,0.11,0.112]
];

// two one-day reporting spikes in July
const spikeDays = [[196, 197.5, 199], [203, 204.5, 206]];
const spikeValues = [[0.84, 3, 0.84], [0.86, 3, 0.86]];

const bg = '#fdf1e6';
const gridColor = '#e9dfd5';
const textColor = '#66605c';
const greyColor = '#b6ada5';
const fontFamily = '"Noto Sans", sans-serif';

function toPoints(days, values) {
    return days.map((d, i) => ({ x: d, y: values[i] }));
}

const highlights = [
    { label: 'United Kingdom', days: ukDays, values: ukValues, color: '#e9578e' },
    { label: 'United States', days: usDays, values: usValues, color: '#1d4f9e' },
    { label: 'South Africa', days: saDays, values: saValues, color: '#98c44a' }
];

const datasets = [];
highlights.forEach((h) => {
    datasets.push({ label: h.label, endLabel: true, data: toPoints(h.days, h.values), borderColor: h.color, borderWidth: 3 });
    datasets.push({ data: toPoints(h.days, h.values), borderColor: bg, borderWidth: 6 });
});
[greySpring, greySummer, greyMid, greyAutumn, greyLow].forEach((group) => {
    group.forEach((values) => {
        datasets.push({ data: toPoints(greyDays, values), borderColor: greyColor, borderWidth: 1 });
    });
});
spikeDays.forEach((days, i) => {
    datasets.push({ data: toPoints(days, spikeValues[i]), borderColor: greyColor, borderWidth: 1 });
});

const monthGrid = {
    id: 'monthGrid',
    beforeDatasetsDraw(chart) {
        const { ctx, chartArea } = chart;
        const x = chart.scales.x;
        const y = chart.scales.y;
        ctx.save();
        ctx.strokeStyle = gridColor;
        ctx.lineWidth = 1;
        monthDays.forEach((d) => {
            const px = Math.round(x.getPixelForValue(d)) + 0.5;
            ctx.beginPath();
            ctx.moveTo(px, y.getPixelForValue(1.4) - 5);
            ctx.lineTo(px, chartArea.bottom);
            ctx.stroke();
        });
        ctx.restore();
    }
};

const endLabels = {
    id: 'endLabels',
    afterDatasetsDraw(chart) {
        const ctx = chart.ctx;
        ctx.save();
        ctx.font = '14.5px ' + fontFamily;
        ctx.textBaseline = 'middle';
        ctx.lineJoin = 'round';
        const items = [];
        chart.data.datasets.forEach((ds, i) => { if (ds.endLabel) items.push(i); });
        items.reverse().forEach((i) => {
            const ds = chart.data.datasets[i];
            const meta = chart.getDatasetMeta(i);
            const pt = meta.data[meta.data.length - 1];
            ctx.fillStyle = ds.borderColor;
            ctx.beginPath();
            ctx.arc(pt.x, pt.y, 4.5, 0, Math.PI * 2);
            ctx.fill();
            ctx.lineWidth = 4;
            ctx.strokeStyle = bg;
            ctx.strokeText(ds.label, pt.x + 10, pt.y + 1);
            ctx.fillText(ds.label, pt.x + 10, pt.y + 1);
        });
        ctx.restore();
    }
};

Chart.defaults.font.family = fontFamily;
Chart.defaults.font.size = 15;
Chart.defaults.color = textColor;

const ctx = document.getElementById('myChart');
const myChart = new Chart(ctx, {
    type: 'line',
    data: { datasets: datasets },
    options: {
        responsive: false,
        animation: false,
        devicePixelRatio: 1,
        layout: { padding: { top: 5, right: 124, left: 0, bottom: 0 } },
        elements: {
            point: { radius: 0, hoverRadius: 0 },
            line: { tension: 0, borderJoinStyle: 'round', borderCapStyle: 'round' }
        },
        plugins: {
            legend: { display: false },
            tooltip: { enabled: false }
        },
        events: [],
        scales: {
            x: {
                type: 'linear',
                min: 10,
                max: 340,
                grid: { display: false, drawTicks: false },
                border: { display: false },
                afterBuildTicks: (scale) => { scale.ticks = monthDays.map((v) => ({ value: v })); },
                afterFit: (scale) => {
                    scale.height = 19;
                    scale.paddingLeft = 0;
                    scale.paddingRight = 0;
                },
                ticks: {
                    padding: 1,
                    maxRotation: 0,
                    autoSkip: false,
                    callback: (value, index) => monthNames[index]
                }
            },
            y: {
                min: 0,
                max: 1.4375,
                grid: { color: gridColor, drawTicks: false },
                border: { display: false },
                afterBuildTicks: (scale) => { scale.ticks = yTicks.map((v) => ({ value: v })); },
                afterFit: (scale) => {
                    scale.width = 38;
                    scale.paddingTop = 0;
                    scale.paddingBottom = 0;
                },
                ticks: {
                    padding: 5,
                    callback: (value) => (value === 0 ? '0' : value.toFixed(1))
                }
            }
        }
    },
    plugins: [monthGrid, endLabels]
});
</script>
</body>
</html>
